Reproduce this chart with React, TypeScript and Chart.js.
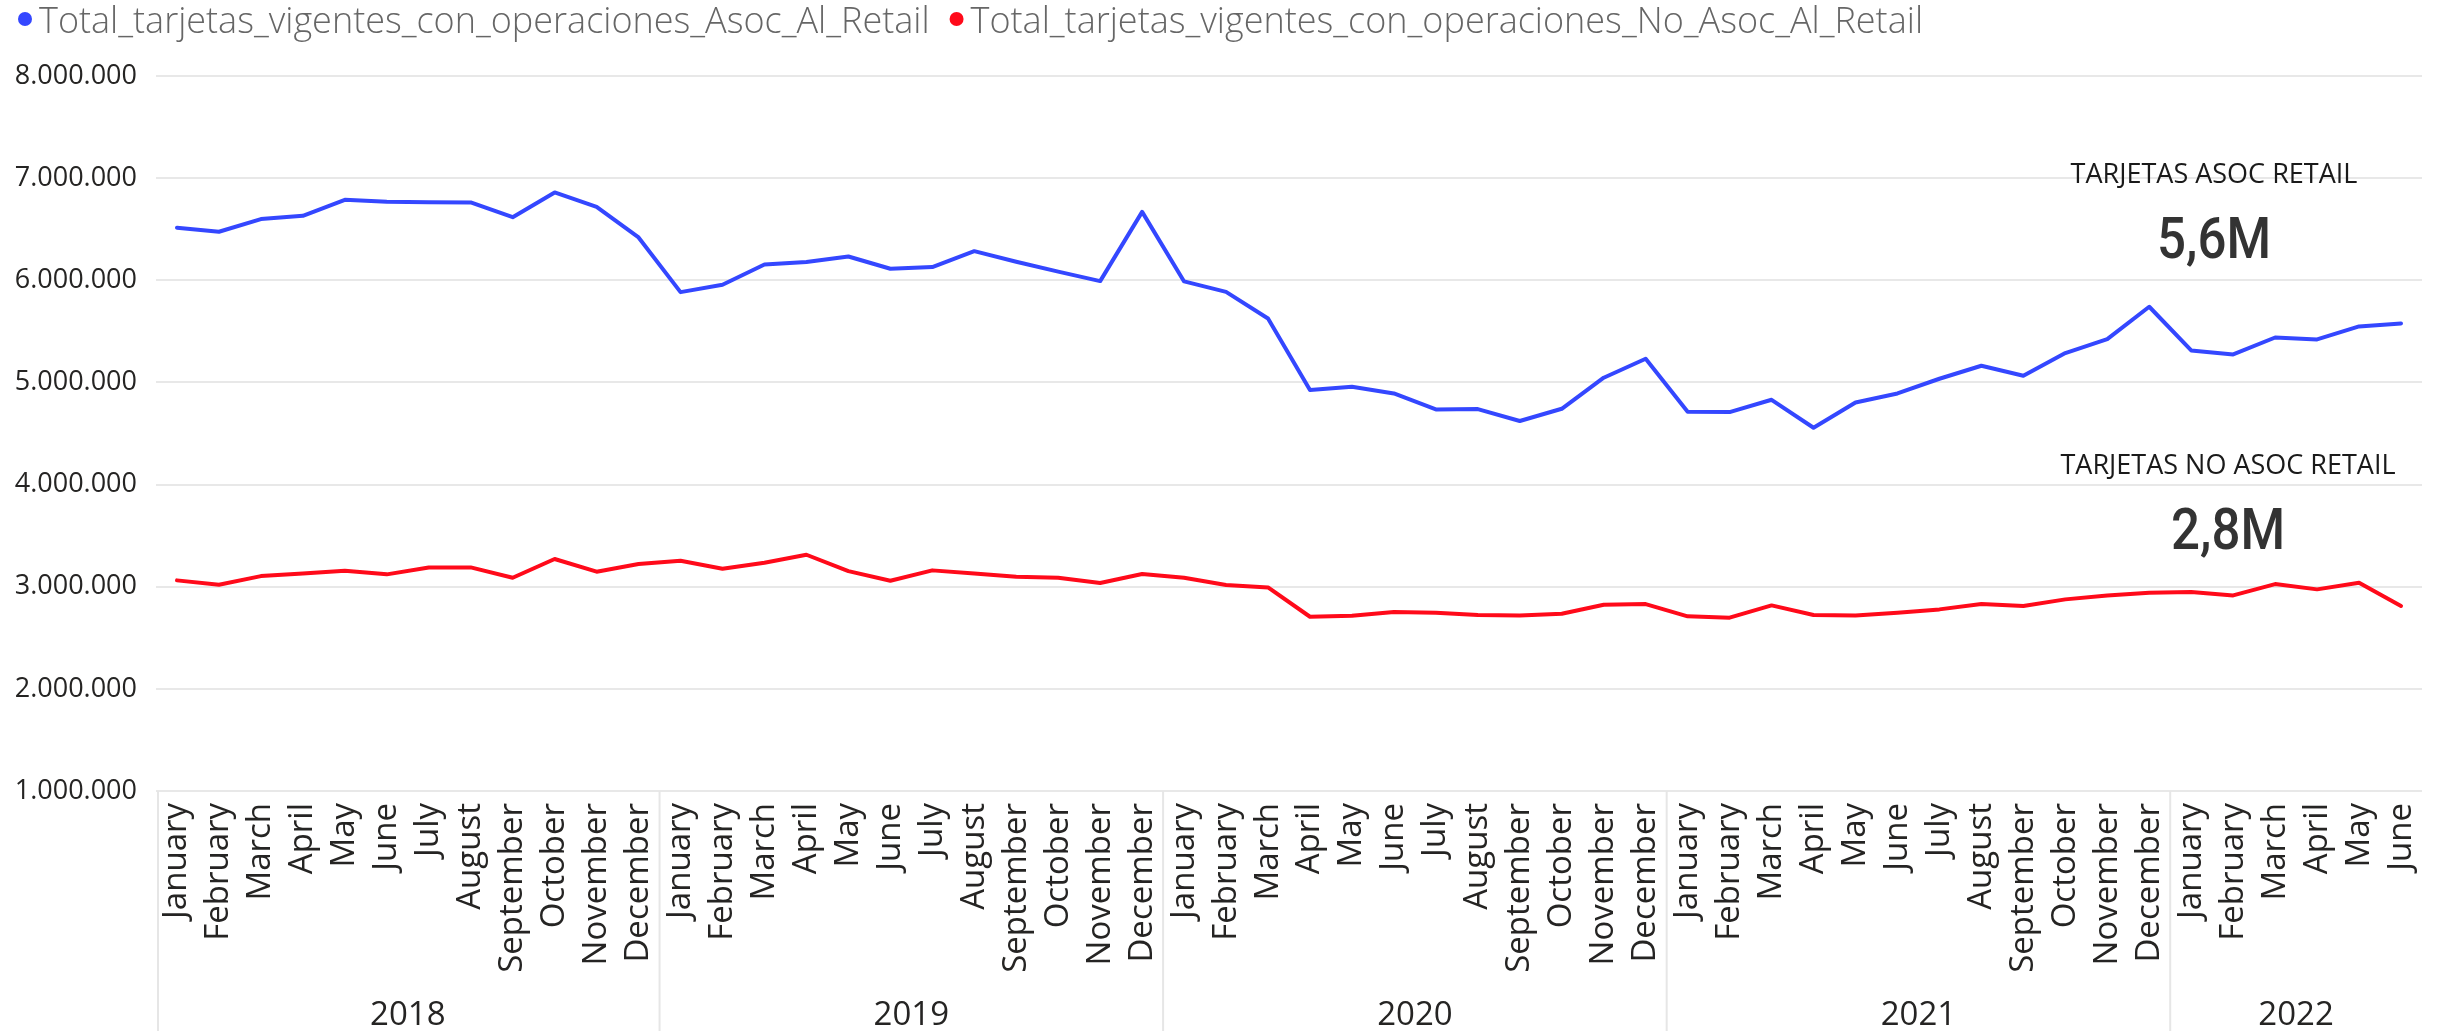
import React, { useEffect, useRef } from 'react';
import { Chart, registerables } from 'chart.js';

Chart.register(...registerables);

const MONTHS = ['January', 'February', 'March', 'April', 'May', 'June', 'July', 'August', 'September', 'October', 'November', 'December'];
const YEARS = ['2018', '2019', '2020', '2021', '2022'];
const MONTH_COUNTS = [12, 12, 12, 12, 6];

const SERIES_NAMES = [
  'Total_tarjetas_vigentes_con_operaciones_Asoc_Al_Retail',
  'Total_tarjetas_vigentes_con_operaciones_No_Asoc_Al_Retail',
];

const ASOC_RETAIL = [
  6514000, 6475000, 6599000, 6631000, 6788000, 6768000, 6765000, 6762000, 6618000, 6860000, 6719000, 6419000,
  5884000, 5956000, 6155000, 6178000, 6233000, 6113000, 6129000, 6285000, 6181000, 6085000, 5992000, 6670000,
  5989000, 5887000, 5626000, 4925000, 4958000, 4892000, 4736000, 4739000, 4622000, 4742000, 5046000, 5232000,
  4713000, 4710000, 4830000, 4556000, 4804000, 4892000, 5036000, 5163000, 5065000, 5287000, 5424000, 5741000,
  5313000, 5274000, 5440000, 5421000, 5548000, 5577000,
];

const NO_ASOC_RETAIL = [
  3062000, 3020000, 3104000, 3130000, 3157000, 3121000, 3189000, 3189000, 3088000, 3271000, 3147000, 3222000,
  3254000, 3176000, 3235000, 3313000, 3153000, 3059000, 3160000, 3130000, 3098000, 3088000, 3036000, 3124000,
  3088000, 3016000, 2993000, 2706000, 2716000, 2752000, 2746000, 2723000, 2719000, 2736000, 2824000, 2830000,
  2710000, 2697000, 2817000, 2723000, 2719000, 2746000, 2778000, 2830000, 2811000, 2876000, 2915000, 2941000,
  2948000, 2915000, 3026000, 2974000, 3039000, 2811000,
];

const Y_TICKS = [1000000, 2000000, 3000000, 4000000, 5000000, 6000000, 7000000, 8000000];

const CARD_TITLES = ['TARJETAS ASOC RETAIL', 'TARJETAS NO ASOC RETAIL'];

const BLUE = '#3447FF';
const RED = '#FF0A1A';

const CATEGORY_LABELS: string[] = [];
YEARS.forEach((y, yi) => {
  for (let m = 0; m < MONTH_COUNTS[yi]; m++) {
    CATEGORY_LABELS.push(MONTHS[m]);
  }
});

const fmtThousands = (v: number) => String(Math.round(v)).replace(/\B(?=(\d{3})+(?!\d))/g, '.');
const fmtMillions = (v: number) => (v / 1e6).toFixed(1).replace('.', ',') + 'M';

const decorPlugin = {
  id: 'decor',
  afterDraw(chart: any) {
    const ctx: CanvasRenderingContext2D = chart.ctx;
    const xs = chart.scales.x;
    const area = chart.chartArea;
    const H = chart.height;

    // month labels
    ctx.save();
    ctx.fillStyle = '#252423';
    ctx.font = '33px "Open Sans"';
    CATEGORY_LABELS.forEach((lab, i) => {
      const px = xs.getPixelForValue(i);
      ctx.save();
      ctx.translate(px, area.bottom + 12);
      ctx.rotate(-Math.PI / 2);
      ctx.textAlign = 'right';
      ctx.textBaseline = 'alphabetic';
      ctx.fillText(lab, 0, 9.5);
      ctx.restore();
    });
    ctx.restore();

    // year separators and labels
    ctx.save();
    ctx.strokeStyle = '#E6E6E6';
    ctx.lineWidth = 2;
    let start = 0;
    const bounds: number[] = [];
    YEARS.forEach((_, yi) => {
      const sx = yi === 0 ? area.left + 2 : (xs.getPixelForValue(start - 1) + xs.getPixelForValue(start)) / 2;
      bounds.push(sx);
      start += MONTH_COUNTS[yi];
    });
    bounds.forEach((bx) => {
      ctx.beginPath();
      ctx.moveTo(bx, area.bottom);
      ctx.lineTo(bx, H);
      ctx.stroke();
    });
    ctx.fillStyle = '#252423';
    ctx.font = '33px "Open Sans"';
    ctx.textAlign = 'center';
    ctx.textBaseline = 'alphabetic';
    start = 0;
    YEARS.forEach((y, yi) => {
      const a = xs.getPixelForValue(start);
      const b = xs.getPixelForValue(start + MONTH_COUNTS[yi] - 1);
      ctx.fillText(y, (a + b) / 2, 1025);
      start += MONTH_COUNTS[yi];
    });
    ctx.restore();

    // legend
    ctx.save();
    ctx.font = '300 36px "Open Sans"';
    ctx.textBaseline = 'alphabetic';
    ctx.textAlign = 'left';
    const colors = [BLUE, RED];
    let lx = 18;
    SERIES_NAMES.forEach((name, i) => {
      ctx.fillStyle = colors[i];
      ctx.beginPath();
      ctx.arc(lx + 7, 19, 7, 0, Math.PI * 2);
      ctx.fill();
      ctx.fillStyle = '#666666';
      ctx.fillText(name, lx + 21, 33);
      lx += 21 + ctx.measureText(name).width + 20;
    });
    ctx.restore();

    // cards
    const lasts = [ASOC_RETAIL[ASOC_RETAIL.length - 1], NO_ASOC_RETAIL[NO_ASOC_RETAIL.length - 1]];
    const cards = [
      { cx: 2214, titleY: 183, valueY: 258 },
      { cx: 2228, titleY: 474, valueY: 549 },
    ];
    cards.forEach((c, i) => {
      ctx.save();
      ctx.fillStyle = '#1A1A1A';
      ctx.font = '27px "Open Sans"';
      ctx.textAlign = 'center';
      ctx.textBaseline = 'alphabetic';
      ctx.fillText(CARD_TITLES[i], c.cx, c.titleY);
      ctx.restore();
      ctx.save();
      ctx.fillStyle = '#333333';
      ctx.font = '500 58px Roboto';
      ctx.textAlign = 'center';
      ctx.textBaseline = 'alphabetic';
      ctx.translate(c.cx, c.valueY);
      ctx.scale(0.88, 1);
      ctx.fillText(fmtMillions(lasts[i]), 0, 0);
      ctx.restore();
    });
  },
};

export default function App() {
  const ref = useRef<HTMLCanvasElement>(null);
  useEffect(() => {
    const chart = new Chart(ref.current as HTMLCanvasElement, {
      type: 'line',
      data: {
        labels: CATEGORY_LABELS,
        datasets: [
          {
            label: SERIES_NAMES[0],
            data: ASOC_RETAIL,
            borderColor: BLUE,
            backgroundColor: BLUE,
            borderWidth: 4,
            pointRadius: 0,
            tension: 0,
            fill: false,
            borderJoinStyle: 'round',
            borderCapStyle: 'round',
          },
          {
            label: SERIES_NAMES[1],
            data: NO_ASOC_RETAIL,
            borderColor: RED,
            backgroundColor: RED,
            borderWidth: 4,
            pointRadius: 0,
            tension: 0,
            fill: false,
            borderJoinStyle: 'round',
            borderCapStyle: 'round',
          },
        ],
      },
      options: {
        animation: false,
        responsive: false,
        devicePixelRatio: 1,
        layout: { padding: { top: 76, right: 26, left: 0, bottom: 0 } },
        plugins: { legend: { display: false }, tooltip: { enabled: false } },
        scales: {
          x: {
            type: 'category',
            offset: true,
            grid: { display: false },
            border: { display: false },
            ticks: { display: false },
            afterFit: (s: any) => {
              s.height = 240;
            },
          },
          y: {
            min: 1000000,
            max: 8000000,
            afterBuildTicks: (s: any) => {
              s.ticks = Y_TICKS.map((v) => ({ value: v }));
            },
            grid: { color: '#E8E8E8', lineWidth: 2, drawTicks: false },
            border: { display: false },
            ticks: {
              padding: 19,
              color: '#252423',
              font: { family: 'Open Sans', size: 27 },
              callback: (v: any) => fmtThousands(Number(v)),
            },
            afterFit: (s: any) => {
              s.width = 156;
            },
          },
        },
      },
      plugins: [decorPlugin],
    } as any);
    return () => chart.destroy();
  }, []);
  return (
    <div style={{ position: 'absolute', left: 0, top: 0, width: 2448, height: 1031, background: '#ffffff' }}>
      <canvas ref={ref} width={2448} height={1031} style={{ display: 'block', width: 2448, height: 1031 }} />
    </div>
  );
}
